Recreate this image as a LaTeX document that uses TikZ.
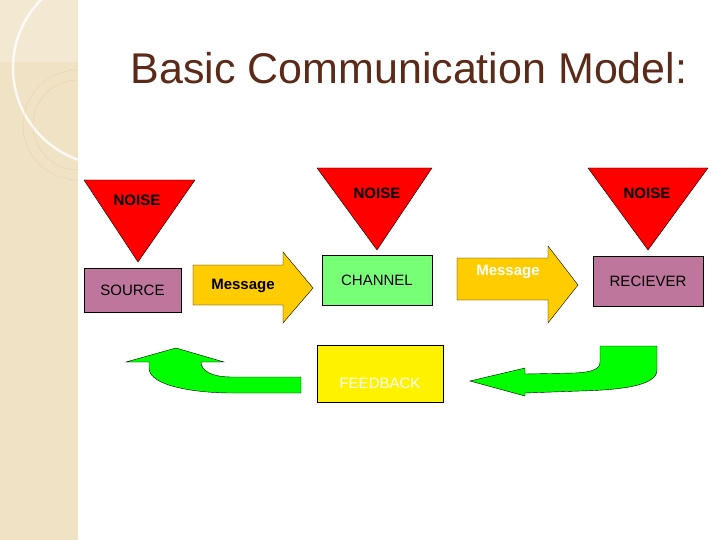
\documentclass[tikz,border=0pt]{standalone}
\usepackage{fontspec}
\setmainfont{Liberation Sans}
\definecolor{strip}{RGB}{240,226,196}
\definecolor{titlecol}{RGB}{92,42,24}
\definecolor{mauve}{RGB}{190,118,156}
\definecolor{chgreen}{RGB}{120,255,120}
\definecolor{msgyel}{RGB}{255,204,0}
\tikzset{
  noise/.style={draw=black,fill=red},
  noisetext/.style={font=\bfseries\fontsize{15}{17}\selectfont},
  boxnode/.style={draw=black,minimum width=#1,minimum height=44pt,inner sep=0pt,font=\fontsize{15}{17}\selectfont},
  msgarrow/.style={draw=black,fill=msgyel},
  backarrow/.style={draw=black,fill=green}
}
\begin{document}
\begin{tikzpicture}[x=1pt,y=-1pt]
\useasboundingbox (0,0) rectangle (720,540);
% left strip
\fill[strip] (0,0) rectangle (78,540);
\begin{scope}
  \clip (0,0) rectangle (78,540);
  \fill[white,opacity=.25] (0,0) rectangle (78,62);
  \draw[white,opacity=.8,line width=2.5pt] (110,68) circle (97);
  \draw[strip!70!brown,opacity=.5] (78,125) circle (45);
  \draw[strip!70!brown,opacity=.5] (78,125) circle (55);
\end{scope}
% title
\node[text=titlecol,font=\fontsize{43}{48}\selectfont] (title) at (409,68) {Basic Communication Model:};
% noise triangles
\draw[noise] (84,180) -- (195,180) -- (138,262) -- cycle;
\node[noisetext] (n1) at (137,200) {NOISE};
\draw[noise] (317,168) -- (432,168) -- (377,250) -- cycle;
\node[noisetext] (n2) at (377,193) {NOISE};
\draw[noise] (588,168) -- (708,168) -- (648,250) -- cycle;
\node[noisetext] (n3) at (647,193) {NOISE};
% boxes
\node[boxnode=97pt,fill=mauve] (source) at (132.5,290) {SOURCE};
\node[boxnode=110pt,minimum height=50pt,fill=chgreen] (channel) at (377,280) {CHANNEL};
\node[boxnode=110pt,minimum height=50pt,fill=mauve] (reciever) at (648,281) {RECIEVER};
\node[boxnode=126pt,minimum height=57pt,fill=yellow,text=white,text depth=0pt] (feedback) at (380,373.5) {};
\node[text=white,font=\fontsize{15}{17}\selectfont] (fbtext) at (380,383) {FEEDBACK};
% message arrows
\draw[msgarrow] (193,265) -- (283,265) -- (283,252) -- (313,288) -- (283,323) -- (283,305) -- (193,305) -- cycle;
\node[noisetext] (m1) at (243,286) {Message};
\draw[msgarrow] (457,258) -- (548,258) -- (548,246) -- (578,285) -- (548,323) -- (548,300) -- (457,300) -- cycle;
\node[noisetext,text=white] (m2) at (508,272) {Message};
% feedback arrows
\draw[backarrow] (301,377) -- (232,377) .. controls (210,377) and (201,370) .. (201,362)
  -- (224,362) -- (176,348) -- (126,362) -- (149,362) -- (149,368)
  .. controls (149,386) and (195,393) .. (232,393) -- (301,393) -- cycle;
\draw[backarrow] (600,346) -- (657,346) -- (657,370) .. controls (657,386) and (620,390) .. (580,391)
  -- (525,393) -- (525,396) -- (470,381) -- (525,368) -- (525,374) -- (575,373)
  .. controls (593,372) and (600,369) .. (600,362) -- cycle;
\end{tikzpicture}
\end{document}
